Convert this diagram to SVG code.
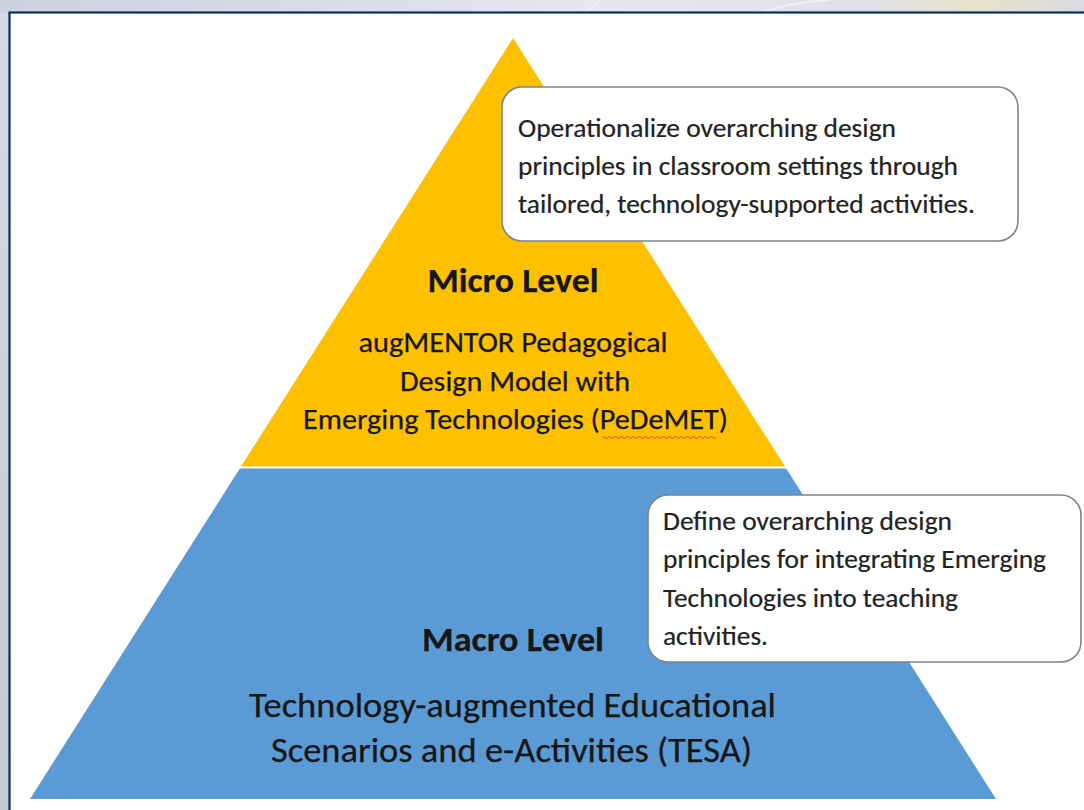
<svg xmlns="http://www.w3.org/2000/svg" width="1084" height="810" viewBox="0 0 1084 810">
  <defs>
    <linearGradient id="topbg" x1="0" y1="0" x2="1" y2="0">
      <stop offset="0" stop-color="#c9d3de"/>
      <stop offset="0.3" stop-color="#d6dee7"/>
      <stop offset="0.55" stop-color="#e4e8ec"/>
      <stop offset="0.8" stop-color="#dde2e6"/>
      <stop offset="0.9" stop-color="#e9e2cc"/>
      <stop offset="1" stop-color="#d8dde2"/>
    </linearGradient>
    <linearGradient id="leftbg" x1="0" y1="0" x2="0" y2="1">
      <stop offset="0" stop-color="#d3dbe4"/>
      <stop offset="1" stop-color="#c6c8cf"/>
    </linearGradient>
  </defs>
  <style>
    .t { font-family: Carlito, Lato, "Noto Sans", sans-serif; fill: #161616; stroke: #161616; stroke-width: 0.25; }
    .b { font-family: Carlito, Lato, "Noto Sans", sans-serif; fill: #222222; stroke: #222222; stroke-width: 0.2; font-size: 26px; }
    .title { font-weight: bold; font-size: 33.5px; }
    .box { fill: #ffffff; stroke: #7d828c; stroke-width: 1.6; }
  </style>

  <!-- background -->
  <rect x="0" y="0" width="1084" height="810" fill="url(#leftbg)"/>
  <rect x="0" y="0" width="1084" height="13" fill="url(#topbg)"/>
  <path d="M600 0 L585 13 M1130 0 L1115 13 M760 13 Q790 2 830 0" stroke="#f4f5f6" stroke-width="2" fill="none" opacity="0.7"/>
  <rect x="9.5" y="12.5" width="1090" height="810" fill="#ffffff" stroke="#0b2a6b" stroke-width="2.2"/>

  <!-- pyramid tiers -->
  <g id="node-micro">
    <polygon points="513,38 785,466.5 241,466.5" fill="#ffc000"/>
    <text class="t title" x="513" y="292" text-anchor="middle" textLength="171" lengthAdjust="spacingAndGlyphs">Micro Level</text>
    <text class="t" font-size="28.5" x="513" y="352" text-anchor="middle" textLength="309" lengthAdjust="spacingAndGlyphs">augMENTOR Pedagogical</text>
    <text class="t" font-size="28.5" x="515" y="391" text-anchor="middle" textLength="230" lengthAdjust="spacingAndGlyphs">Design Model with</text>
    <text class="t" font-size="28.5" x="515.5" y="429" text-anchor="middle" textLength="425" lengthAdjust="spacingAndGlyphs">Emerging Technologies (PeDeMET)</text>
    <path d="M602 437.5 q1.5 -2 3 0 t3 0 t3 0 t3 0 t3 0 t3 0 t3 0 t3 0 t3 0 t3 0 t3 0 t3 0 t3 0 t3 0 t3 0 t3 0 t3 0 t3 0 t3 0 t3 0 t3 0 t3 0 t3 0 t3 0 t3 0 t3 0 t3 0 t3 0 t3 0 t3 0 t3 0 t3 0 t3 0 t3 0 t3 0 t3 0 t3 0 t3 0" fill="none" stroke="#e2493c" stroke-width="1"/>
  </g>

  <g id="node-macro">
    <polygon points="239.8,468.5 786.2,468.5 996,799 30,799" fill="#5b9bd5"/>
    <text class="t title" x="513" y="651" text-anchor="middle" textLength="182" lengthAdjust="spacingAndGlyphs">Macro Level</text>
    <text class="t" font-size="34" x="512.5" y="717" text-anchor="middle" textLength="527" lengthAdjust="spacingAndGlyphs">Technology-augmented Educational</text>
    <text class="t" font-size="34" x="511.5" y="762" text-anchor="middle" textLength="481" lengthAdjust="spacingAndGlyphs">Scenarios and e-Activities (TESA)</text>
  </g>

  <!-- callout boxes -->
  <g id="node-micro-note">
    <rect class="box" x="502" y="87" width="516" height="154" rx="20" ry="20"/>
    <text class="b" x="518" y="137" textLength="378" lengthAdjust="spacingAndGlyphs">Operationalize overarching design</text>
    <text class="b" x="518" y="175" textLength="440" lengthAdjust="spacingAndGlyphs">principles in classroom settings through</text>
    <text class="b" x="518" y="213" textLength="457" lengthAdjust="spacingAndGlyphs">tailored, technology-supported activities.</text>
  </g>

  <g id="node-macro-note">
    <rect class="box" x="648" y="495" width="433" height="167" rx="20" ry="20"/>
    <text class="b" x="663" y="530" textLength="289" lengthAdjust="spacingAndGlyphs">Define overarching design</text>
    <text class="b" x="663" y="568" textLength="383" lengthAdjust="spacingAndGlyphs">principles for integrating Emerging</text>
    <text class="b" x="663" y="607" textLength="295" lengthAdjust="spacingAndGlyphs">Technologies into teaching</text>
    <text class="b" x="663" y="645" textLength="105" lengthAdjust="spacingAndGlyphs">activities.</text>
  </g>

  <g id="connectors"/>
</svg>
